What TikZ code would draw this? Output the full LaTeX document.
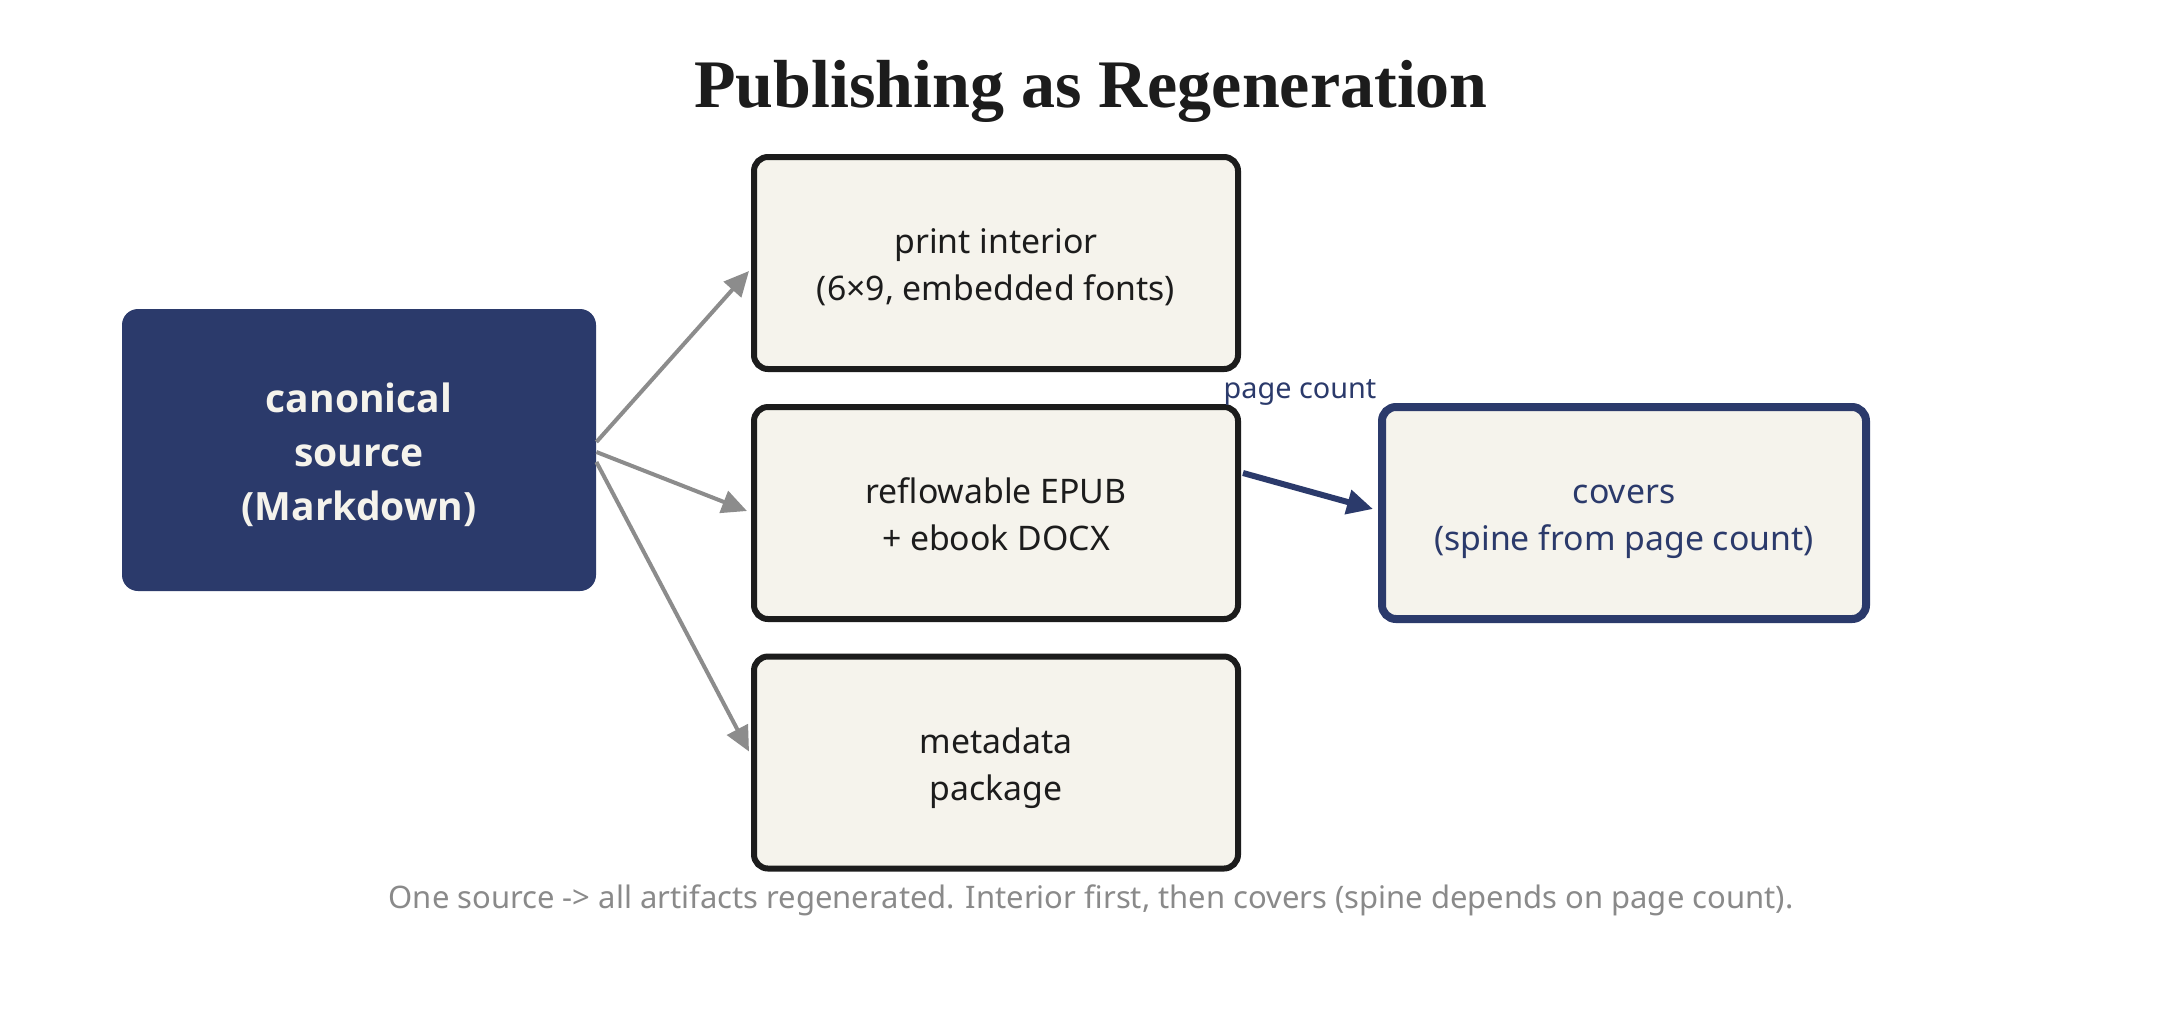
\documentclass[tikz,border=0pt]{standalone}
\usepackage{fontspec}
\setmainfont{Noto Sans}
\newfontfamily\srcfont{Open Sans}
\newfontfamily\titlefont{Liberation Serif}
\usetikzlibrary{arrows.meta,calc}
\definecolor{navy}{HTML}{2B3A6B}
\definecolor{cream}{HTML}{F5F3EC}
\definecolor{ink}{HTML}{1C1C1C}
\definecolor{agray}{HTML}{8C8C8C}
\definecolor{fgray}{HTML}{8A8A8A}
\newcommand{\bxtop}{\rule{0pt}{21.3pt}}
\newcommand{\srctop}{\rule{0pt}{24.5pt}}
\begin{document}
\begin{tikzpicture}[x=0.5pt,y=-0.5pt,
  artifact/.style={draw=ink, line width=3pt, fill=cream, rounded corners=7pt,
    minimum width=242pt, minimum height=106pt, align=center, text=ink,
    font=\fontsize{16.9}{23.4}\selectfont},
  coverbox/.style={artifact, draw=navy, line width=4pt, text=navy},
  sourcebox/.style={fill=navy, rounded corners=8pt, minimum width=237pt,
    minimum height=141pt, align=center, text=cream,
    font=\srcfont\bfseries\fontsize{19.5}{27}\selectfont},
  garrow/.style={draw=agray, line width=2pt, -{Triangle[length=12.5pt,width=11.5pt]}},
  narrow/.style={draw=navy, line width=3pt, -{Triangle[length=13pt,width=12pt]}},
]
\useasboundingbox[fill=white] (0,0) rectangle (2182,1014);
\node[anchor=base, font=\titlefont\bfseries\fontsize{34}{40}\selectfont, text=ink] (title) at (1091,107) {Publishing as Regeneration};
\node[sourcebox] (canon) at (359,450) {\srctop canonical\\source\\(Markdown)\strut};
\node[artifact] (print) at (996,263) {\bxtop print interior\\(6×9, embedded fonts)\strut};
\node[artifact] (epub) at (996,513) {\bxtop reflowable EPUB\\+ ebook DOCX\strut};
\node[artifact] (meta) at (996,762.5) {\bxtop metadata\\package\strut};
\node[coverbox] (covers) at (1624,513) {\bxtop covers\\(spine from page count)\strut};
\node[text=navy, font=\fontsize{14.4}{18}\selectfont] (pc) at (1300,392) {page count};
\node[text=fgray, font=\fontsize{15.5}{19}\selectfont] (foot) at (1091,900) {One source -> all artifacts regenerated. Interior first, then covers (spine depends on page count).};
\draw[garrow] ($(canon.east)+(0,-8)$) -- ($(print.west)+(-2,8)$);
\draw[garrow] ($(canon.east)+(0,2)$) -- ($(epub.west)+(-4,-2)$);
\draw[garrow] ($(canon.east)+(0,12)$) -- ($(meta.west)+(-2,-11)$);
\draw[narrow] ($(epub.east)+(2,-40)$) -- ($(covers.west)+(-5,-4)$);
\end{tikzpicture}
\end{document}
